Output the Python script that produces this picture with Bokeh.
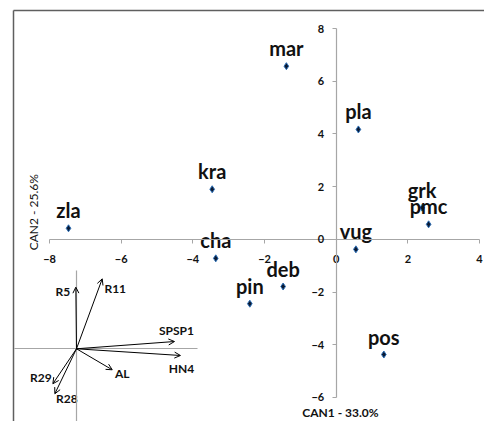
import math
from bokeh.plotting import figure
from bokeh.models import (ColumnDataSource, LinearAxis, Range1d, Arrow, OpenHead,
                          Label, FixedTicker)
from bokeh.embed import file_html
from bokeh.resources import INLINE
from bokeh.core.properties import value

# --- data -------------------------------------------------------------
sites = ["mar", "pla", "kra", "zla", "grk", "pmc", "vug", "cha", "deb", "pin", "pos"]
can1 = [-1.39, 0.62, -3.46, -7.47, 2.40, 2.58, 0.55, -3.36, -1.48, -2.41, 1.33]
can2 = [6.57, 4.17, 1.90, 0.42, 1.20, 0.57, -0.38, -0.72, -1.79, -2.44, -4.37]

variables = ["R5", "R11", "SPSP1", "HN4", "AL", "R29", "R28"]
load1 = [-0.006, 0.234, 0.891, 0.945, 0.325, -0.215, -0.197]
load2 = [0.560, 0.636, 0.066, -0.061, -0.191, -0.318, -0.409]

x_ticks = [-8, -6, -4, -2, 0, 2, 4]
y_ticks = [-6, -4, -2, 0, 2, 4, 6, 8]

x_title = "CAN1 - 33.0%"
y_title = "CAN2 - 25.6%"

# --- layout / style ---------------------------------------------------
FONT = "Lato"
AXIS_GREY = "#a6a6a6"
BORDER = "#5f5f5f"
TXT = "#111111"

# label offsets for the loading arrows (screen px, +y = down)
var_dx = [-13, 13, 2, 1, 10, -12, 12]
var_dy = [4, 10, -11, 13, 4, -6, 5]

p = figure(width=484, height=421,
           x_range=Range1d(-9.005, 4.1395), y_range=Range1d(-6.911, 8.683),
           x_axis_type=None, y_axis_type=None,
           output_backend="svg", toolbar_location=None,
           min_border_left=13, min_border_top=10,
           min_border_right=0, min_border_bottom=0)
p.outline_line_color = None
p.background_fill_color = "white"
p.border_fill_color = "white"

# chart-area border (left and top edges only are visible in the original)
for side in ("left", "above"):
    b = LinearAxis(ticker=FixedTicker(ticks=[]))
    b.axis_line_color = BORDER
    b.axis_line_width = 1.5
    b.major_tick_line_color = None
    b.minor_tick_line_color = None
    b.major_label_text_font_size = "0px"
    b.major_label_standoff = 0
    p.add_layout(b, side)


def style_axis(ax):
    ax.axis_line_color = AXIS_GREY
    ax.axis_line_width = 1.2
    ax.major_tick_line_color = AXIS_GREY
    ax.major_tick_in = 0
    ax.major_tick_out = 4
    ax.minor_tick_line_color = None
    ax.major_label_text_font = FONT
    ax.major_label_text_font_style = "bold"
    ax.major_label_text_font_size = "11px"
    ax.major_label_text_color = TXT


xa = LinearAxis(fixed_location=0, bounds=(x_ticks[0], x_ticks[-1]),
                ticker=FixedTicker(ticks=x_ticks))
style_axis(xa)
xa.major_label_standoff = 12
p.add_layout(xa, "below")

ya = LinearAxis(fixed_location=0, bounds=(y_ticks[0], y_ticks[-1]),
                ticker=FixedTicker(ticks=y_ticks))
style_axis(ya)
ya.major_label_standoff = 8
ya.major_label_orientation = "horizontal"
p.add_layout(ya, "left")

# --- inset biplot (loadings) on its own ranges --------------------------
p.extra_x_ranges = {"lx": Range1d(-0.5727, 3.709)}
p.extra_y_ranges = {"ly": Range1d(-0.661, 3.075)}

for bounds, side in (((-0.564, 1.10), "below"), ((-0.70, 0.712), "left")):
    ax = LinearAxis(x_range_name="lx", y_range_name="ly", fixed_location=0,
                    bounds=bounds, ticker=FixedTicker(ticks=[]))
    ax.axis_line_color = AXIS_GREY
    ax.axis_line_width = 1.2
    ax.major_tick_line_color = None
    ax.minor_tick_line_color = None
    ax.major_label_text_font_size = "0px"
    p.add_layout(ax, side)

lsrc = ColumnDataSource(dict(x0=[0.0] * len(variables), y0=[0.0] * len(variables),
                             x1=load1, y1=load2, name=variables, dx=var_dx, dy=var_dy))
p.add_layout(Arrow(end=OpenHead(size=6, line_width=1, line_color="black"),
                   x_start="x0", y_start="y0", x_end="x1", y_end="y1",
                   source=lsrc, line_width=1, line_color="black",
                   x_range_name="lx", y_range_name="ly"))
p.text(x="x1", y="y1", text="name", source=lsrc, x_offset="dx", y_offset="dy",
       x_range_name="lx", y_range_name="ly",
       text_align="center", text_baseline="middle",
       text_font=value(FONT), text_font_style="bold", text_font_size="12px",
       text_color=TXT)

# --- site scores --------------------------------------------------------
src = ColumnDataSource(dict(x=can1, y=can2, name=sites))
p.scatter(x="x", y="y", source=src, marker="diamond", size=7,
          fill_color="#0b1a33", line_color="#2a6db5", line_width=1)
p.text(x="x", y="y", text="name", source=src, y_offset=-18,
       text_align="center", text_baseline="middle",
       text_font=value(FONT), text_font_style="bold", text_font_size="20px",
       text_color=TXT)

# --- axis titles --------------------------------------------------------
p.add_layout(Label(x=0.12, y=-6.57, text=x_title, text_align="center",
                   text_baseline="middle", text_font=FONT, text_font_style="bold",
                   text_font_size="12px", text_color=TXT))
p.add_layout(Label(x=-8.44, y=1.03, text=y_title, angle=math.pi / 2,
                   text_align="center", text_baseline="middle", text_font=FONT,
                   text_font_size="12px", text_color=TXT))

open("out.html", "w").write(file_html(p, INLINE))
